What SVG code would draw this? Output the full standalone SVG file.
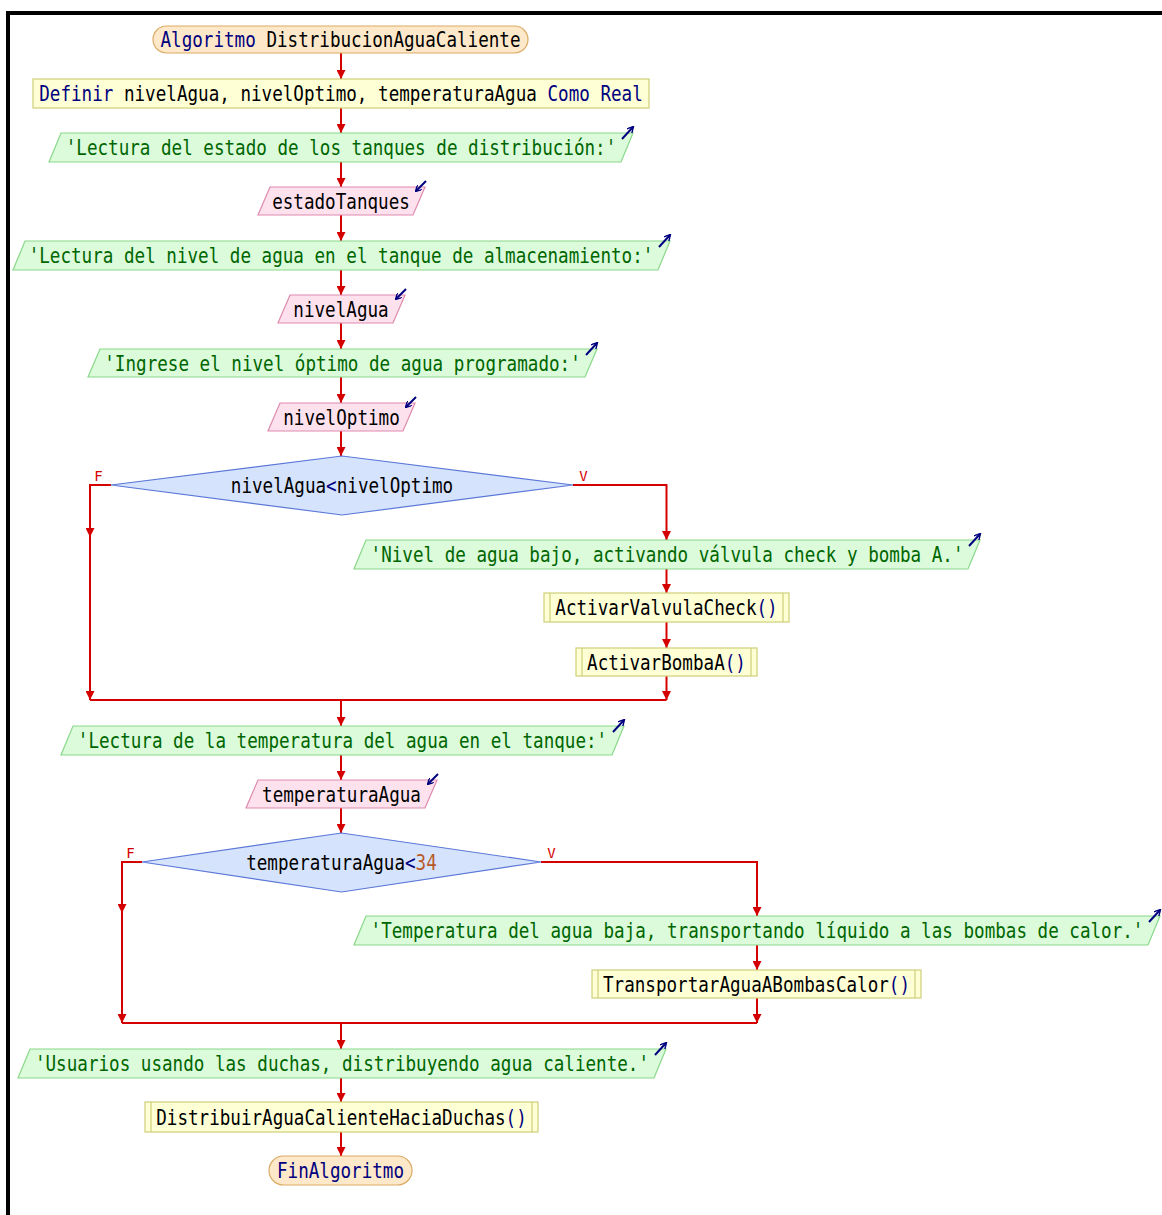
<svg xmlns="http://www.w3.org/2000/svg" width="1162" height="1215" viewBox="0 0 1162 1215">
  <defs>
    <marker id="ah" viewBox="0 0 10 10" refX="10" refY="5" markerUnits="userSpaceOnUse" markerWidth="9" markerHeight="9" orient="auto">
      <path d="M0,0 L10,5 L0,10 z" fill="#d40000"/>
    </marker>
    <marker id="io" viewBox="0 0 10 10" refX="8" refY="5" markerUnits="userSpaceOnUse" markerWidth="7" markerHeight="7" orient="auto">
      <path d="M0,0 L9,5 L0,10" fill="none" stroke="#00007f" stroke-width="2"/>
    </marker>
  </defs>
  <style>
    text { font-family: "DejaVu Sans Mono", "Liberation Mono", monospace; font-size: 17.6px; fill: #000; text-anchor: middle; }
    .kw { fill: #00007f; }
    .str { fill: #006600; }
    .num { fill: #b85a28; }
    .lbl { font-size: 14px; fill: #d40000; }
    .term { fill: #fde9c9; stroke: #dbab66; stroke-width: 1.2; }
    .proc { fill: #ffffd6; stroke: #cfcf7a; stroke-width: 1.2; }
    .out { fill: #dbfbdb; stroke: #8ad88a; stroke-width: 1.2; }
    .in { fill: #fde2ee; stroke: #de8aae; stroke-width: 1.2; }
    .dec { fill: #d6e3fd; stroke: #5b78d8; stroke-width: 1.2; }
    .bar { fill: none; stroke: #cfcf7a; stroke-width: 1.2; }
    .icon { fill: none; stroke: #00007f; stroke-width: 2; marker-end: url(#io); }
    .wire { fill: none; stroke: #d40000; stroke-width: 2; }
    .arr { marker-end: url(#ah); }
  </style>

  <!-- page frame -->
  <path d="M8,1215 V13 H1162" fill="none" stroke="#000" stroke-width="4"/>

  <!-- connectors -->
  <g id="connectors">
    <path class="wire arr" d="M341,53 V79"/>
    <path class="wire arr" d="M341,108 V133"/>
    <path class="wire arr" d="M341,162 V187"/>
    <path class="wire arr" d="M341,215 V241"/>
    <path class="wire arr" d="M341,270 V295"/>
    <path class="wire arr" d="M341,323 V349"/>
    <path class="wire arr" d="M341,377 V403"/>
    <path class="wire arr" d="M341,431 V456"/>
    <!-- first decision: false side -->
    <path class="wire arr" d="M111,485 H90 V537"/>
    <path class="wire arr" d="M90,537 V700"/>
    <!-- first decision: true side -->
    <path class="wire arr" d="M573,485 H666.5 V540"/>
    <path class="wire arr" d="M666.5,569 V593"/>
    <path class="wire arr" d="M666.5,622 V648"/>
    <path class="wire arr" d="M666.5,676 V700"/>
    <path class="wire" d="M90,700 H666.5"/>
    <path class="wire arr" d="M341,700 V726"/>
    <path class="wire arr" d="M341,755 V780"/>
    <path class="wire arr" d="M341,808 V833"/>
    <!-- second decision: false side -->
    <path class="wire arr" d="M142,862 H122 V913"/>
    <path class="wire arr" d="M122,913 V1023"/>
    <!-- second decision: true side -->
    <path class="wire arr" d="M541,862 H757 V916"/>
    <path class="wire arr" d="M757,945 V970"/>
    <path class="wire arr" d="M757,998 V1023"/>
    <path class="wire" d="M122,1023 H757"/>
    <path class="wire arr" d="M341,1023 V1049"/>
    <path class="wire arr" d="M341,1078 V1102"/>
    <path class="wire arr" d="M341,1132 V1156"/>
    <!-- branch labels -->
    <text class="lbl" x="98.5" y="481">F</text>
    <text class="lbl" x="583.5" y="481">V</text>
    <text class="lbl" x="130.5" y="858">F</text>
    <text class="lbl" x="551.5" y="858">V</text>
  </g>

  <g id="n-inicio">
    <rect class="term" x="153" y="26" width="375" height="27" rx="13.5"/>
    <text transform="translate(340.5,47) scale(1,1.18)"><tspan class="kw">Algoritmo</tspan> DistribucionAguaCaliente</text>
  </g>

  <g id="n-definir">
    <rect class="proc" x="33" y="79" width="616" height="29"/>
    <text transform="translate(341,101) scale(1,1.18)"><tspan class="kw">Definir</tspan> nivelAgua, nivelOptimo, temperaturaAgua <tspan class="kw">Como Real</tspan></text>
  </g>

  <g id="n-escribir-1">
    <polygon class="out" points="61,133 633,133 621,162 49,162"/>
    <text class="str" transform="translate(341,155) scale(1,1.18)">'Lectura del estado de los tanques de distribución:'</text>
    <path class="icon" d="M622,139 L633,127"/>
  </g>

  <g id="n-leer-1">
    <polygon class="in" points="270,187 425,187 413,215 258,215"/>
    <text transform="translate(341,208.5) scale(1,1.18)">estadoTanques</text>
    <path class="icon" d="M426,181 L416,191"/>
  </g>

  <g id="n-escribir-2">
    <polygon class="out" points="25,241 670,241 658,270 13,270"/>
    <text class="str" transform="translate(341,263) scale(1,1.18)">'Lectura del nivel de agua en el tanque de almacenamiento:'</text>
    <path class="icon" d="M659,247 L670,235"/>
  </g>

  <g id="n-leer-2">
    <polygon class="in" points="290,295 405,295 393,323 278,323"/>
    <text transform="translate(341,316.5) scale(1,1.18)">nivelAgua</text>
    <path class="icon" d="M406,289 L396,299"/>
  </g>

  <g id="n-escribir-3">
    <polygon class="out" points="100,349 597,349 585,377 88,377"/>
    <text class="str" transform="translate(342.5,370.5) scale(1,1.18)">'Ingrese el nivel óptimo de agua programado:'</text>
    <path class="icon" d="M586,355 L597,343"/>
  </g>

  <g id="n-leer-3">
    <polygon class="in" points="280,403 415,403 403,431 268,431"/>
    <text transform="translate(341.5,424.5) scale(1,1.18)">nivelOptimo</text>
    <path class="icon" d="M416,397 L406,407"/>
  </g>

  <g id="n-si-1">
    <polygon class="dec" points="111,485 342,456 573,485 342,515"/>
    <text transform="translate(342,492.5) scale(1,1.18)">nivelAgua<tspan class="kw">&lt;</tspan>nivelOptimo</text>
  </g>

  <g id="n-escribir-4">
    <polygon class="out" points="366,540 980,540 968,569 354,569"/>
    <text class="str" transform="translate(667,562) scale(1,1.18)">'Nivel de agua bajo, activando válvula check y bomba A.'</text>
    <path class="icon" d="M969,546 L980,534"/>
  </g>

  <g id="n-valvula">
    <rect class="proc" x="544" y="593" width="245" height="29"/>
    <path class="bar" d="M550,593 V622 M783,593 V622"/>
    <text transform="translate(666.5,615) scale(1,1.18)">ActivarValvulaCheck<tspan class="kw">()</tspan></text>
  </g>

  <g id="n-bomba">
    <rect class="proc" x="576" y="648" width="181" height="28"/>
    <path class="bar" d="M582,648 V676 M751,648 V676"/>
    <text transform="translate(666.5,669.5) scale(1,1.18)">ActivarBombaA<tspan class="kw">()</tspan></text>
  </g>

  <g id="n-escribir-5">
    <polygon class="out" points="73,726 624,726 612,755 61,755"/>
    <text class="str" transform="translate(342.5,748) scale(1,1.18)">'Lectura de la temperatura del agua en el tanque:'</text>
    <path class="icon" d="M613,732 L624,720"/>
  </g>

  <g id="n-leer-4">
    <polygon class="in" points="258,780 437,780 425,808 246,808"/>
    <text transform="translate(341.5,801.5) scale(1,1.18)">temperaturaAgua</text>
    <path class="icon" d="M438,774 L428,784"/>
  </g>

  <g id="n-si-2">
    <polygon class="dec" points="142,862 341.5,833 541,862 341.5,892"/>
    <text transform="translate(341.5,869.5) scale(1,1.18)">temperaturaAgua<tspan class="kw">&lt;</tspan><tspan class="num">34</tspan></text>
  </g>

  <g id="n-escribir-6">
    <polygon class="out" points="366,916 1160,916 1148,945 354,945"/>
    <text class="str" transform="translate(757,938) scale(1,1.18)">'Temperatura del agua baja, transportando líquido a las bombas de calor.'</text>
    <path class="icon" d="M1149,922 L1160,910"/>
  </g>

  <g id="n-transportar">
    <rect class="proc" x="592" y="970" width="329" height="28"/>
    <path class="bar" d="M598,970 V998 M915,970 V998"/>
    <text transform="translate(756.5,991.5) scale(1,1.18)">TransportarAguaABombasCalor<tspan class="kw">()</tspan></text>
  </g>

  <g id="n-escribir-7">
    <polygon class="out" points="30,1049 666,1049 654,1078 18,1078"/>
    <text class="str" transform="translate(342,1071) scale(1,1.18)">'Usuarios usando las duchas, distribuyendo agua caliente.'</text>
    <path class="icon" d="M655,1055 L666,1043"/>
  </g>

  <g id="n-distribuir">
    <rect class="proc" x="145" y="1102" width="393" height="30"/>
    <path class="bar" d="M151,1102 V1132 M532,1102 V1132"/>
    <text transform="translate(341.5,1124.5) scale(1,1.18)">DistribuirAguaCalienteHaciaDuchas<tspan class="kw">()</tspan></text>
  </g>

  <g id="n-fin">
    <rect class="term" x="269" y="1156" width="143" height="29" rx="14.5"/>
    <text class="kw" transform="translate(340.5,1178) scale(1,1.18)">FinAlgoritmo</text>
  </g>
</svg>
